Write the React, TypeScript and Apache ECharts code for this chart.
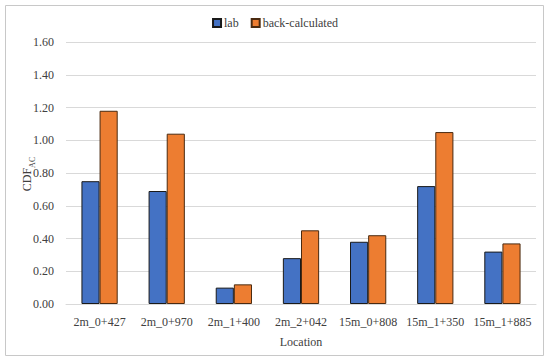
import React, { useEffect, useRef } from "react";
import * as echarts from "echarts";

const categories = ["2m_0+427", "2m_0+970", "2m_1+400", "2m_2+042", "15m_0+808", "15m_1+350", "15m_1+885"];
const labValues = [0.75, 0.69, 0.10, 0.28, 0.38, 0.72, 0.32];
const backValues = [1.18, 1.04, 0.12, 0.45, 0.42, 1.05, 0.37];
const seriesNames = ["lab", "back-calculated"];

const FONT = "'Liberation Serif', 'DejaVu Serif', serif";
const TXT = "#404040";

export default function App() {
  const ref = useRef<HTMLDivElement>(null);
  useEffect(() => {
    if (!ref.current) return;
    const chart = echarts.init(ref.current, null, { renderer: "svg" });
    chart.setOption({
      animation: false,
      textStyle: { fontFamily: FONT },
      graphic: {
        elements: [
          {
            type: "polyline",
            shape: {
              points: [
                [5.5, 5.5],
                [543.5, 5.5],
                [543.5, 355.5],
                [5.5, 355.5],
                [5.5, 5.5],
              ],
            },
            style: { fill: null, stroke: "#c8c8c8", lineWidth: 1 },
            silent: true,
            z: 100,
          },
          {
            type: "text",
            x: 26,
            y: 174,
            rotation: Math.PI / 2,
            style: {
              text: "{a|CDF}{b|AC}",
              align: "center",
              verticalAlign: "middle",
              rich: {
                a: { fontFamily: FONT, fontSize: 12, fill: TXT, verticalAlign: "bottom", lineHeight: 14 },
                b: { fontFamily: FONT, fontSize: 8, fill: TXT, verticalAlign: "bottom", lineHeight: 10, padding: [0, 0, -3, 0] },
              },
            },
            z: 100,
          },
        ],
      },
      legend: {
        top: 12,
        left: "center",
        itemWidth: 8,
        itemHeight: 8,
        itemGap: 12,
        icon: "rect",
        textStyle: { fontFamily: FONT, fontSize: 12, color: TXT, padding: [0, 0, 0, -2] },
        data: seriesNames,
      },
      grid: { left: 66, right: 14, top: 42, bottom: 59 },
      xAxis: {
        type: "category",
        data: categories,
        name: "Location",
        nameLocation: "middle",
        nameGap: 32,
        nameTextStyle: { fontFamily: FONT, fontSize: 12, color: TXT },
        axisLine: { lineStyle: { color: "#d9d9d9" } },
        axisTick: { show: false },
        axisLabel: { fontFamily: FONT, fontSize: 12, color: TXT, margin: 12, interval: 0 },
      },
      yAxis: {
        type: "value",
        min: 0,
        max: 1.6,
        interval: 0.2,
        axisLine: { show: false },
        axisTick: { show: false },
        splitLine: { lineStyle: { color: "#d9d9d9" } },
        axisLabel: {
          fontFamily: FONT,
          fontSize: 12,
          color: TXT,
          margin: 12,
          formatter: (v: number) => v.toFixed(2),
        },
      },
      series: [
        {
          name: seriesNames[0],
          type: "bar",
          data: labValues,
          barWidth: "27%",
          barGap: "0%",
          itemStyle: { color: "#4472C4", borderColor: "#1a1a1a", borderWidth: 1 },
        },
        {
          name: seriesNames[1],
          type: "bar",
          data: backValues,
          barWidth: "27%",
          barGap: "0%",
          itemStyle: { color: "#ED7D31", borderColor: "#4a2a10", borderWidth: 1 },
        },
      ],
    });
    return () => chart.dispose();
  }, []);
  return <div ref={ref} style={{ position: "fixed", left: 0, top: 0, width: 550, height: 363, background: "#fff" }} />;
}
